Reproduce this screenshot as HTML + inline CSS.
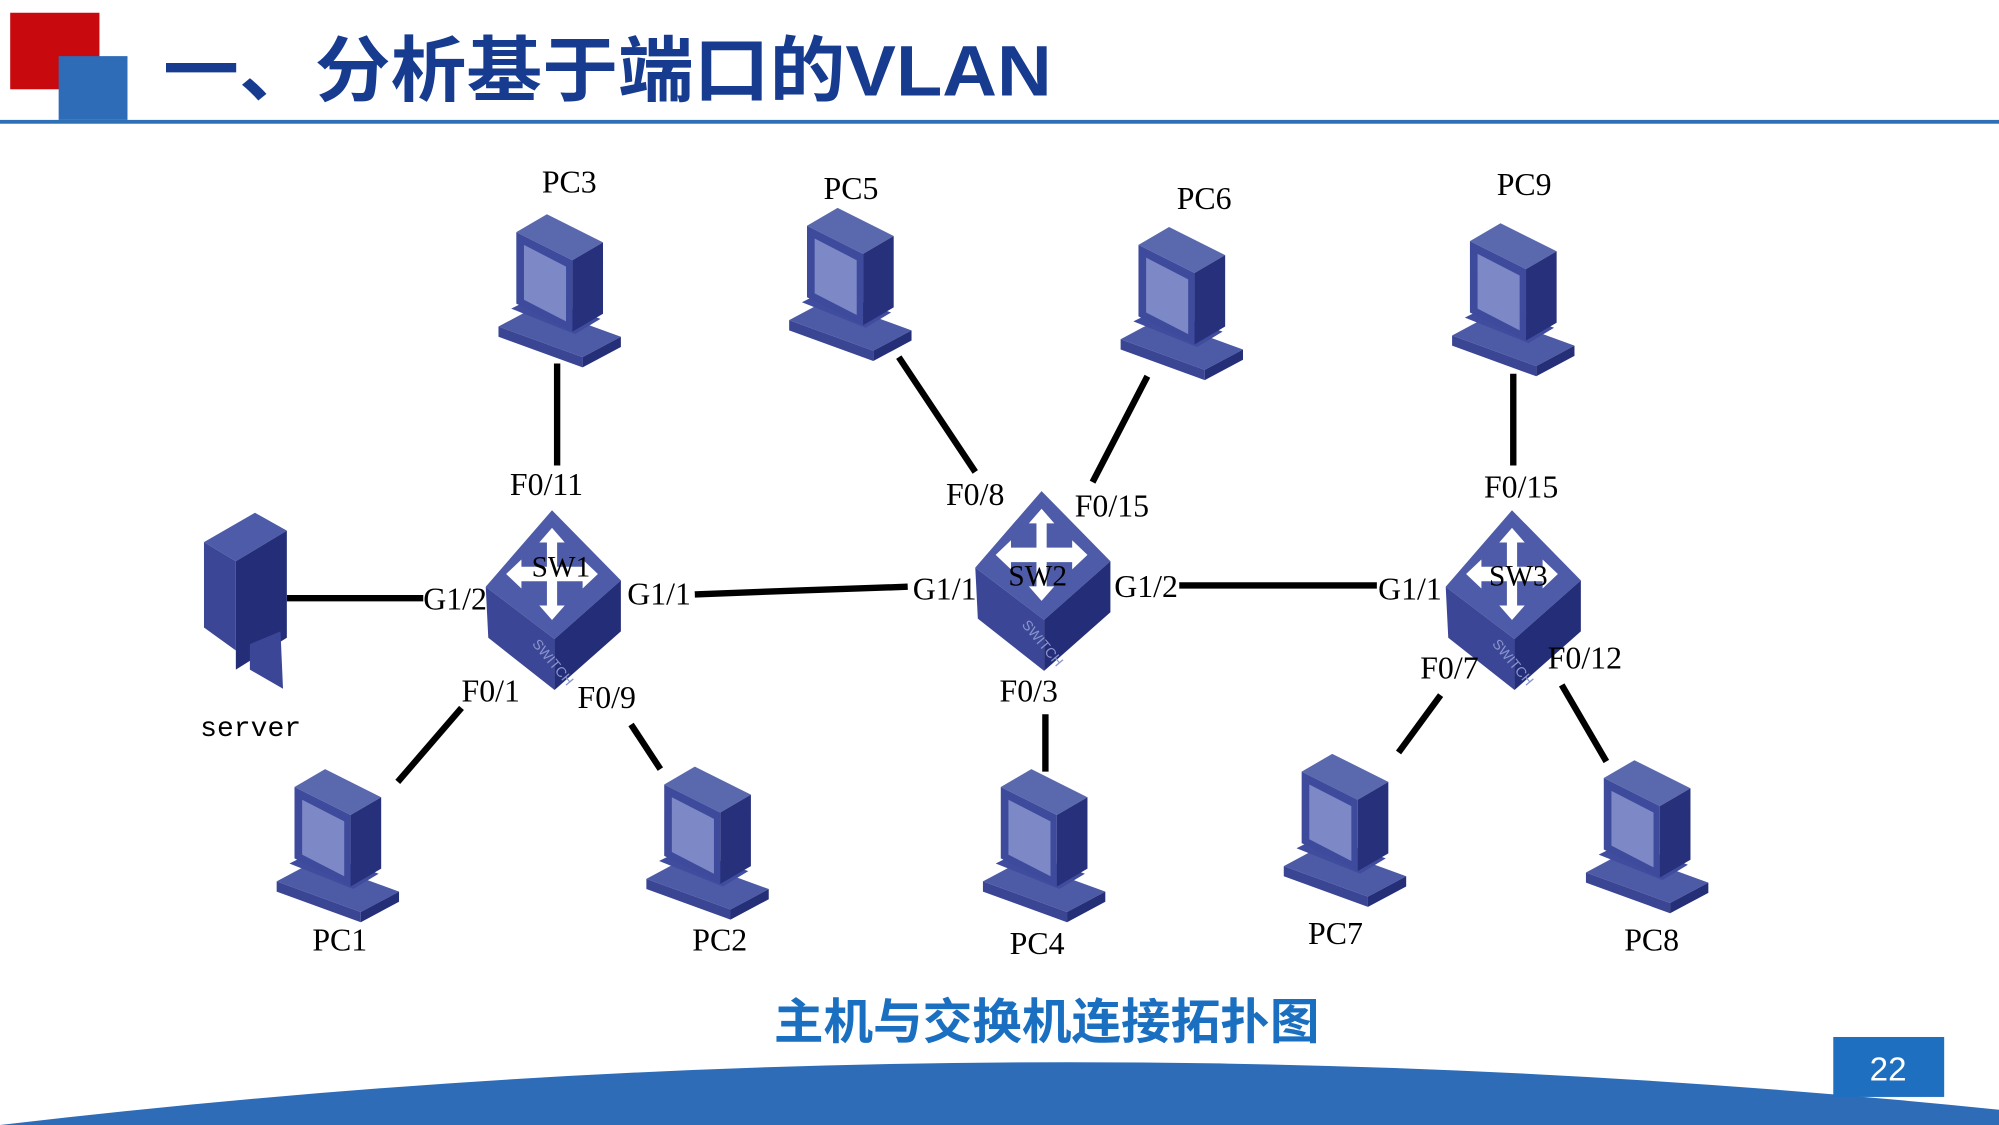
<!DOCTYPE html>
<html><head><meta charset="utf-8"><style>
html,body{margin:0;padding:0;background:#fff;}
svg{display:block;}
.l{font-family:"Liberation Serif",serif;font-size:25px;fill:#000;}
</style></head><body>
<svg width="1999" height="1125" viewBox="0 0 1568 882" preserveAspectRatio="none" xmlns="http://www.w3.org/2000/svg">
<defs>
<g id="pc">
<polygon points="0,96 30,80 96,104 66,120" fill="#4d5ba6"/>
<polygon points="0,96 66,120 66,128 0,104" fill="#3a4694"/>
<polygon points="66,120 96,104 96,112 66,128" fill="#252f78"/>
<polygon points="10,82 30,72 80,90 60,102" fill="#404d9e"/>
<polygon points="14,22 38,8 82,30 58,44" fill="#5a68ae"/>
<polygon points="14,22 58,44 58,100 14,78" fill="#3e4b9c"/>
<polygon points="20,32 53,49 53,92 20,75" fill="#7d88c6"/>
<polygon points="58,44 82,30 82,86 58,100" fill="#26307b"/>
</g>
<g id="sw">
<polygon points="0,-55 54,0 2,46 -52,5" fill="#4d5ba8"/>
<polygon points="-52,5 2,46 2,86 -50,45" fill="#3b4796"/>
<polygon points="2,46 54,0 54,40 2,86" fill="#232d78"/>
<path d="M0,-38 L10,-26 L4,-26 L4,-6 L24,-6 L24,-12 L36,0 L24,12 L24,6 L4,6 L4,26 L10,26 L0,38 L-10,26 L-4,26 L-4,6 L-24,6 L-24,12 L-36,0 L-24,-12 L-24,-6 L-4,-6 L-4,-26 L-10,-26 Z" fill="#fff" transform="translate(0,-5) scale(1,0.95)"/>
<text x="-16" y="50" font-family="Liberation Sans,sans-serif" font-size="11" fill="#8a94cc" transform="rotate(50,-16,50)">SWITCH</text>
</g>
</defs>
<rect x="8" y="10" width="70" height="60" fill="#c8090e"/>
<rect x="46" y="44" width="54" height="50" fill="#2e6cb8"/>
<text x="128" y="75" font-family="Liberation Sans,'Noto Sans CJK SC',sans-serif" font-size="56" font-weight="bold" fill="#163b8f" textLength="697" lengthAdjust="spacingAndGlyphs">一、分析基于端口的VLAN</text>
<rect x="0" y="94" width="1568" height="3" fill="#2f6fb6"/>

<g stroke="#000" stroke-width="5" fill="none">
<line x1="437" y1="285" x2="437" y2="365"/>
<line x1="225" y1="469" x2="332" y2="469"/>
<polyline points="545,466 625,463 712,460"/>
<line x1="925" y1="459" x2="1080" y2="459"/>
<line x1="705" y1="280" x2="765" y2="370"/>
<line x1="900" y1="295" x2="857" y2="378"/>
<line x1="1187" y1="293" x2="1187" y2="365"/>
<line x1="362" y1="555" x2="312" y2="613"/>
<line x1="495" y1="568" x2="518" y2="603"/>
<line x1="820" y1="560" x2="820" y2="605"/>
<line x1="1130" y1="545" x2="1097" y2="590"/>
<line x1="1225" y1="537" x2="1260" y2="597"/>
</g>

<use href="#pc" x="391" y="160"/>
<use href="#pc" x="619" y="155"/>
<use href="#pc" x="879" y="170"/>
<use href="#pc" x="1139" y="167"/>
<use href="#pc" x="217" y="595"/>
<use href="#pc" x="507" y="593"/>
<use href="#pc" x="771" y="595"/>
<use href="#pc" x="1007" y="583"/>
<use href="#pc" x="1244" y="588"/>

<g>
<polygon points="160,425 200,402 225,416 185,440" fill="#4d5ba8"/>
<polygon points="160,425 185,440 185,510 160,492" fill="#3b4796"/>
<polygon points="185,440 225,416 225,500 185,525" fill="#232d78"/>
<polygon points="196,505 220,495 222,540 196,525" fill="#3b4796"/>
</g>

<use href="#sw" x="433" y="455"/>
<use href="#sw" x="817" y="440"/>
<use href="#sw" x="1186" y="455"/>

<g class="l">
<text x="425" y="151">PC3</text>
<text x="646" y="156">PC5</text>
<text x="923" y="164">PC6</text>
<text x="1174" y="153">PC9</text>
<text x="245" y="745">PC1</text>
<text x="543" y="745">PC2</text>
<text x="792" y="748">PC4</text>
<text x="1026" y="740">PC7</text>
<text x="1274" y="745">PC8</text>
<text x="400" y="388">F0/11</text>
<text x="742" y="396">F0/8</text>
<text x="843" y="405">F0/15</text>
<text x="1164" y="390">F0/15</text>
<text x="332" y="478">G1/2</text>
<text x="492" y="474">G1/1</text>
<text x="716" y="470">G1/1</text>
<text x="874" y="468">G1/2</text>
<text x="1081" y="470">G1/1</text>
<text x="362" y="550">F0/1</text>
<text x="453" y="555">F0/9</text>
<text x="784" y="550">F0/3</text>
<text x="1114" y="532">F0/7</text>
<text x="1214" y="524">F0/12</text>
<text x="417" y="452" font-size="23">SW1</text>
<text x="791" y="459" font-size="23">SW2</text>
<text x="1168" y="459" font-size="23">SW3</text>
<text x="157" y="577" font-family="Liberation Mono,monospace" font-size="22">server</text>
</g>

<text x="821" y="814" text-anchor="middle" font-family="Liberation Sans,'Noto Sans CJK SC',sans-serif" font-size="38" font-weight="bold" fill="#1a6fc0" textLength="428" lengthAdjust="spacingAndGlyphs">主机与交换机连接拓扑图</text>
<path d="M0,882 Q784,790 1568,870 L1568,882 Z" fill="#2e6cb8"/>
<rect x="1438" y="813" width="87" height="47" fill="#1f6fc0"/>
<text x="1481" y="847" text-anchor="middle" font-family="Liberation Sans,sans-serif" font-size="26" fill="#fff">22</text>
</svg>
</body></html>
